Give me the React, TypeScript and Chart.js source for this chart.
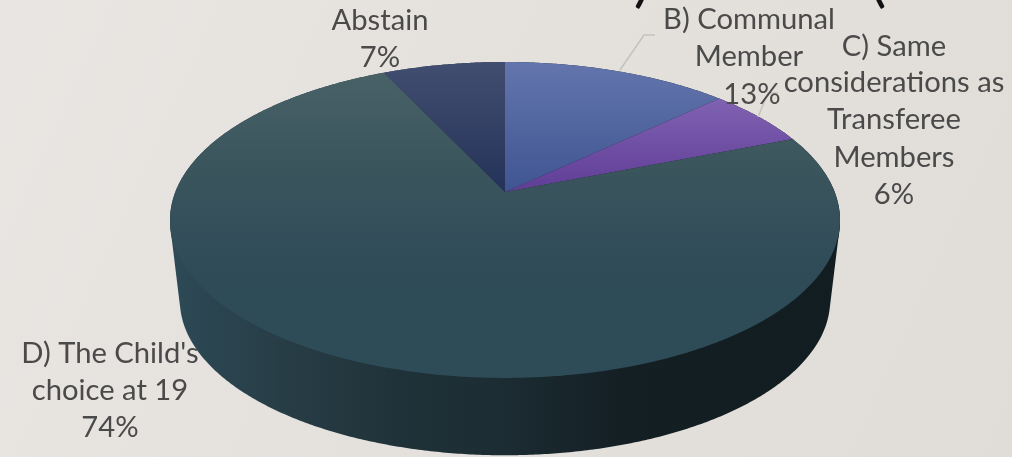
import React, { useEffect, useRef } from "react";
import { Chart, registerables } from "chart.js";

Chart.register(...registerables);

const categories = ["B) Communal Member", "C) Same considerations as Transferee Members", "D) The Child's choice at 19", "Abstain"];
const shares = [13, 6, 74, 7];
const baseColors = ["#4f639c", "#6f4ea3", "#3a545d", "#2f3b60"];
const labelLines = [
  ["B) Communal", "Member"],
  ["C) Same", "considerations as", "Transferee", "Members"],
  ["D) The Child's", "choice at 19"],
  ["Abstain"],
];

const W = 1012;
const H = 457;
const FONT = '29.2px Lato, "Open Sans", sans-serif';
const INK = "#4a4a4a";

// layout of each label: centre x and baseline of each row
const labelLayout = [
  { x: 749, ys: [29, 66, 104], pctX: 752 },
  { x: 894, ys: [56, 92, 129, 167, 204], pctX: 894 },
  { x: 110, ys: [363, 400, 437], pctX: 110 },
  { x: 380, ys: [30, 67], pctX: 380 },
];

const K = -0.177;
const TOP = { cx: 505, cy: 192, a: 153, b: 329.7 };
const BOTTOM = { cx: 505, cy: 273, a: 150, b: 320 };

function project(theta: number, p: typeof TOP): [number, number] {
  const u = Math.cos(theta);
  const v = Math.sin(theta);
  const d = 1 + K * v;
  return [p.cx + (p.b * u) / d, p.cy + (p.a * v) / d];
}

function rim(ctx: CanvasRenderingContext2D, s: number, e: number, p: typeof TOP, first: boolean) {
  const n = Math.max(2, Math.ceil(Math.abs(e - s) / 0.008));
  for (let i = 0; i <= n; i++) {
    const [x, y] = project(s + ((e - s) * i) / n, p);
    if (i === 0 && first) ctx.moveTo(x, y);
    else ctx.lineTo(x, y);
  }
}

// wall of a slice: one path of quads, all wound the same way so they merge
function wall(ctx: CanvasRenderingContext2D, s: number, e: number) {
  const n = Math.max(2, Math.ceil(Math.abs(e - s) / 0.008));
  for (let i = 0; i < n; i++) {
    const t0 = s + ((e - s) * i) / n;
    const t1 = s + ((e - s) * (i + 1)) / n;
    const q = [project(t0, TOP), project(t1, TOP), project(t1, BOTTOM), project(t0, BOTTOM)];
    let area = 0;
    q.forEach(([x, y], k) => {
      const [x2, y2] = q[(k + 1) % 4];
      area += x * y2 - x2 * y;
    });
    if (area < 0) q.reverse();
    q.forEach(([x, y], k) => (k ? ctx.lineTo(x, y) : ctx.moveTo(x, y)));
    ctx.closePath();
  }
}

function topFill(ctx: CanvasRenderingContext2D, i: number) {
  const specs: [number, number, string[]][] = [
    [62, 192, ["#6375ac", "#3f5592"]],
    [98, 192, ["#8062b2", "#5f3d96"]],
    [62, 378, ["#4a6369", "#3b555d", "#2f4b58", "#2e4b58"]],
    [62, 192, ["#424e70", "#253259"]],
  ];
  const [y0, y1, stops] = specs[i];
  const g = ctx.createLinearGradient(0, y0, 0, y1);
  stops.forEach((c, k) => g.addColorStop(k / (stops.length - 1), c));
  return g;
}

const pie3d = {
  id: "pie3d",
  beforeDraw(chart: any) {
    const ctx: CanvasRenderingContext2D = chart.ctx;
    const bg = ctx.createLinearGradient(0, 0, W, H);
    bg.addColorStop(0, "#e8e5e2");
    bg.addColorStop(1, "#e0ddd8");
    ctx.save();
    ctx.fillStyle = bg;
    ctx.fillRect(0, 0, W, H);
    ctx.restore();
  },
  beforeDatasetsDraw(chart: any) {
    const ctx: CanvasRenderingContext2D = chart.ctx;
    const arcs = chart.getDatasetMeta(0).data;
    ctx.save();

    const side = ctx.createLinearGradient(170, 0, 840, 0);
    [
      [0, "#2d4a56"],
      [0.17, "#273d46"],
      [0.34, "#203239"],
      [0.5, "#1b2c32"],
      [0.68, "#141f24"],
      [1, "#121d22"],
    ].forEach(([o, c]) => side.addColorStop(o as number, c as string));
    arcs.forEach((arc: any) => {
      ctx.beginPath();
      wall(ctx, arc.startAngle, arc.endAngle);
      ctx.fillStyle = side;
      ctx.fill();
    });

    // backing under the top face, so its soft edge blends with the wall
    ctx.save();
    ctx.translate(0, 2);
    ctx.beginPath();
    rim(ctx, 0, Math.PI * 2, TOP, true);
    ctx.closePath();
    ctx.fillStyle = side;
    ctx.fill();
    ctx.restore();

    arcs.forEach((arc: any, i: number) => {
      ctx.beginPath();
      ctx.moveTo(TOP.cx, TOP.cy);
      rim(ctx, arc.startAngle, arc.endAngle, TOP, false);
      ctx.closePath();
      ctx.fillStyle = topFill(ctx, i);
      ctx.fill();
    });
    ctx.restore();
    return false;
  },
  afterDraw(chart: any) {
    const ctx: CanvasRenderingContext2D = chart.ctx;
    ctx.save();

    ctx.strokeStyle = "#c4c2be";
    ctx.lineWidth = 1.5;
    [
      [[620, 70], [644, 35], [655, 35]],
      [[758, 117], [768, 93], [778, 93]],
    ].forEach((pts) => {
      ctx.beginPath();
      pts.forEach(([x, y], i) => (i ? ctx.lineTo(x, y) : ctx.moveTo(x, y)));
      ctx.stroke();
    });

    ctx.fillStyle = "#111111";
    ctx.textAlign = "center";
    ctx.textBaseline = "alphabetic";
    ctx.font = '62px Lato, sans-serif';
    ctx.fillText(")", 642, 0);
    ctx.fillText("(", 878, 0);

    ctx.font = FONT;
    ctx.fillStyle = INK;
    labelLines.forEach((lines, i) => {
      const l = labelLayout[i];
      lines.forEach((t, k) => ctx.fillText(t, l.x, l.ys[k]));
      ctx.fillText(`${shares[i]}%`, l.pctX, l.ys[lines.length]);
    });
    ctx.restore();
  },
};

export default function App() {
  const ref = useRef<HTMLCanvasElement | null>(null);
  useEffect(() => {
    document.body.style.margin = "0";
    const chart = new Chart(ref.current as HTMLCanvasElement, {
      type: "pie",
      data: {
        labels: categories,
        datasets: [{ data: shares, backgroundColor: baseColors, borderWidth: 0 }],
      },
      options: {
        responsive: false,
        animation: false,
        devicePixelRatio: 1,
        plugins: { legend: { display: false }, tooltip: { enabled: false } },
      },
      plugins: [pie3d],
    } as any);
    return () => chart.destroy();
  }, []);
  return <canvas ref={ref} width={W} height={H} style={{ display: "block" }} />;
}
